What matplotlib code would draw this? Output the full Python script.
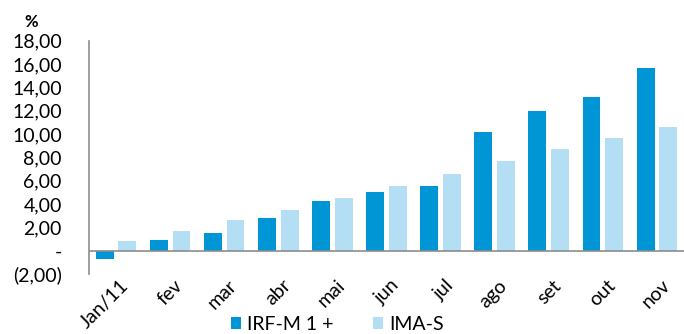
import numpy as np
import matplotlib.pyplot as plt
from matplotlib.ticker import FuncFormatter
from matplotlib.transforms import ScaledTranslation

plt.rcParams['font.family'] = ['Lato', 'DejaVu Sans']

meses = ['Jan/11', 'fev', 'mar', 'abr', 'mai', 'jun', 'jul', 'ago', 'set', 'out', 'nov']
irfm = [-0.69, 0.89, 1.52, 2.78, 4.23, 5.00, 5.52, 10.15, 11.97, 13.14, 15.66]
imas = [0.83, 1.66, 2.63, 3.49, 4.52, 5.52, 6.55, 7.69, 8.71, 9.69, 10.63]

cor_irfm = '#0096D6'
cor_imas = '#B3DEF3'


def fmt_br(v, pos):
    # formato contábil: vírgula decimal, zero como traço, negativo entre parênteses
    if abs(v) < 1e-9:
        return '-'
    s = f'{abs(v):,.2f}'.replace(',', 'X').replace('.', ',').replace('X', '.')
    return f'({s})' if v < 0 else s


fig = plt.figure(figsize=(6.84, 3.34), dpi=100)
ax = fig.add_axes([0.130, 0.18, 0.870, 0.698])

x = np.arange(len(meses))
w = 0.33
ax.bar(x - 0.21, irfm, w, color=cor_irfm, label='IRF-M 1 +')
ax.bar(x + 0.21, imas, w, color=cor_imas, label='IMA-S')

ax.set_xlim(-0.5, len(meses) - 0.5)
ax.set_ylim(-2, 18)
ax.set_yticks(np.arange(-2, 19, 2))
ax.yaxis.set_major_formatter(FuncFormatter(fmt_br))
ax.tick_params(axis='y', length=0, pad=19.5, labelsize=14)
ax.tick_params(axis='x', length=0, pad=2, labelsize=14)
ax.set_xticks(x)
ax.set_xticklabels(meses, rotation=45, ha='right', rotation_mode='anchor')
# desloca os rótulos do eixo x um pouco para a direita
desloc = ScaledTranslation(4 / 100, 0, fig.dpi_scale_trans)
for lbl in ax.get_xticklabels():
    lbl.set_transform(lbl.get_transform() + desloc)

for s in ['top', 'right', 'bottom']:
    ax.spines[s].set_visible(False)
ax.spines['left'].set_color('#8C8C8C')
ax.spines['left'].set_linewidth(1.2)
ax.axhline(0, color='#8C8C8C', lw=1.2)

fig.text(0.035, 0.92, '%', fontsize=12, fontweight='bold', va='baseline')

fig.legend(loc='lower center', bbox_to_anchor=(0.493, -0.05), ncol=2, frameon=False,
           fontsize=14, handlelength=0.55, handleheight=0.55, handletextpad=0.3,
           columnspacing=2.0)

fig.savefig('out.png', dpi=100)
